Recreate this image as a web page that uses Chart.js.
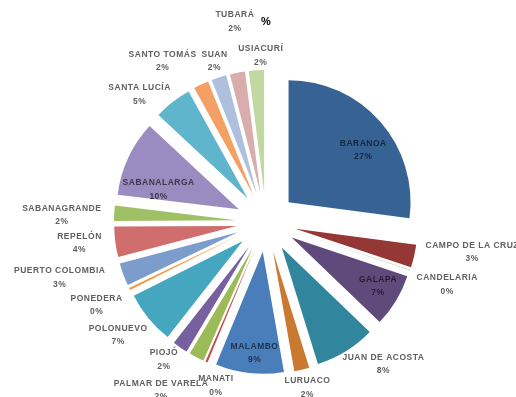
<!DOCTYPE html>
<html>
<head>
<meta charset="utf-8">
<script src="https://cdn.jsdelivr.net/npm/chart.js@4.4.0/dist/chart.umd.min.js"></script>
<style>
  html, body { margin: 0; padding: 0; background: #fff; }
  #wrap { width: 516px; height: 397px; }
</style>
</head>
<body>
<div id="wrap"><canvas id="myChart"></canvas></div>
<script>
// municipios, clockwise from 12 o'clock
var municipios = ['BARANOA', 'CAMPO DE LA CRUZ', 'CANDELARIA', 'GALAPA', 'JUAN DE ACOSTA', 'LURUACO', 'MALAMBO', 'MANATI',
  'PALMAR DE VARELA', 'PIOJÓ', 'POLONUEVO', 'PONEDERA', 'PUERTO COLOMBIA', 'REPELÓN', 'SABANAGRANDE', 'SABANALARGA',
  'SANTA LUCÍA', 'SANTO TOMÁS', 'SUAN', 'TUBARÁ', 'USIACURÍ'];
// share of the total (the 0% ones are only thin slivers)
var porcentajes = [27, 3, 0.05, 7, 8, 2, 9, 0.3, 2, 2, 7, 0.3, 3, 4, 2, 10, 5, 2, 2, 2, 2];

var colores = ['#376394', '#953735', '#77933C', '#604A7B', '#31859C', '#C97A30', '#4A7EBB', '#C0504D',
  '#9BBB59', '#7660A0', '#44A6BF', '#F79646', '#7C9CCB', '#CF6E6C', '#9FC064', '#9A8BC0',
  '#5FB5CB', '#F4A064', '#AFC0DE', '#D9ADAD', '#C2D8A1'];
var dentro = ['BARANOA', 'GALAPA', 'MALAMBO', 'SABANALARGA'];  // labels drawn inside the slice
// small hand moves of the labels, like excel did
var ajustes = [[4, 10], [4, -9], [0, 7], [6, 0], [21, -7], [2, -5], [2, 8], [16, 2],
  [-21, 12], [-6, -7], [-5, 2], [-3, 6], [-14, -5], [-4, -2], [-3, 3], [5, 20],
  [-15, 11], [-28, -2], [0, 6], [0, -28], [5, 9]];

var explode = 30;
var lineH = 13.5;

function oscuro(hex) {
  var n = parseInt(hex.slice(1), 16);
  var r = (n >> 16) & 255, g = (n >> 8) & 255, b = n & 255;
  return 'rgb(' + Math.round(r * 0.4) + ',' + Math.round(g * 0.4) + ',' + Math.round(b * 0.4) + ')';
}

// exploded pie: every arc pushed out along its middle angle
var explodePlugin = {
  id: 'explode',
  beforeDatasetDraw: function(chart, args) {
    var ctx = chart.ctx;
    args.meta.data.forEach(function(arc) {
      var mid = (arc.startAngle + arc.endAngle) / 2;
      ctx.save();
      ctx.translate(Math.cos(mid) * explode, Math.sin(mid) * explode);
      arc.draw(ctx);
      ctx.restore();
    });
    return false;
  }
};

var labelPlugin = {
  id: 'sliceLabels',
  afterDatasetsDraw: function(chart) {
    var ctx = chart.ctx;
    var meta = chart.getDatasetMeta(0);
    var total = porcentajes.reduce(function(a, b) { return a + b; }, 0);
    ctx.save();
    ctx.font = 'bold 8.5px "Liberation Sans"';
    ctx.letterSpacing = '0.5px';
    ctx.textAlign = 'center';
    ctx.textBaseline = 'middle';
    meta.data.forEach(function(arc, i) {
      var mid = (arc.startAngle + arc.endAngle) / 2;
      var name = municipios[i];
      var pct = Math.round(porcentajes[i] / total * 100) + '%';
      var w = Math.max(ctx.measureText(name).width, ctx.measureText(pct).width);
      var h = 2 * lineH;
      var x, y, r;
      if (dentro.indexOf(name) >= 0) {
        r = explode + arc.outerRadius * 0.77;
        x = arc.x + Math.cos(mid) * r;
        y = arc.y + Math.sin(mid) * r;
        ctx.fillStyle = oscuro(colores[i]);
      } else {
        r = explode + arc.outerRadius + 10;
        x = arc.x + Math.cos(mid) * (r + w / 2 * Math.abs(Math.cos(mid)));
        y = arc.y + Math.sin(mid) * r + Math.sin(mid) * h / 2;
        ctx.fillStyle = '#606060';
      }
      x += ajustes[i][0];
      y += ajustes[i][1];
      ctx.fillText(name, x, y - lineH / 2);
      ctx.fillText(pct, x, y + lineH / 2);
    });
    ctx.restore();
  }
};

var ctx = document.getElementById('myChart').getContext('2d');

var myChart = new Chart(ctx, {
   type: 'pie',
   data: {
       labels: municipios,
       datasets: [{
           data: porcentajes,
           backgroundColor: colores,
           borderWidth: 0
       }]
   },
   options: {
          responsive: true,
          maintainAspectRatio: false,
          animation: false,
          radius: 122,
          layout: {
              padding: { left: 16, top: 5 }
          },
          plugins: {
              legend: { display: false },
              tooltip: { enabled: false },
              title: {
                  display: true,
                  text: '%',
                  color: '#000',
                  font: { size: 11, weight: 'bold', family: '"Liberation Sans"', lineHeight: 1.2 },
                  padding: { top: 10, bottom: 18.8 }
              }
          }
      },
   plugins: [explodePlugin, labelPlugin]
  });
</script>
</body>
</html>
